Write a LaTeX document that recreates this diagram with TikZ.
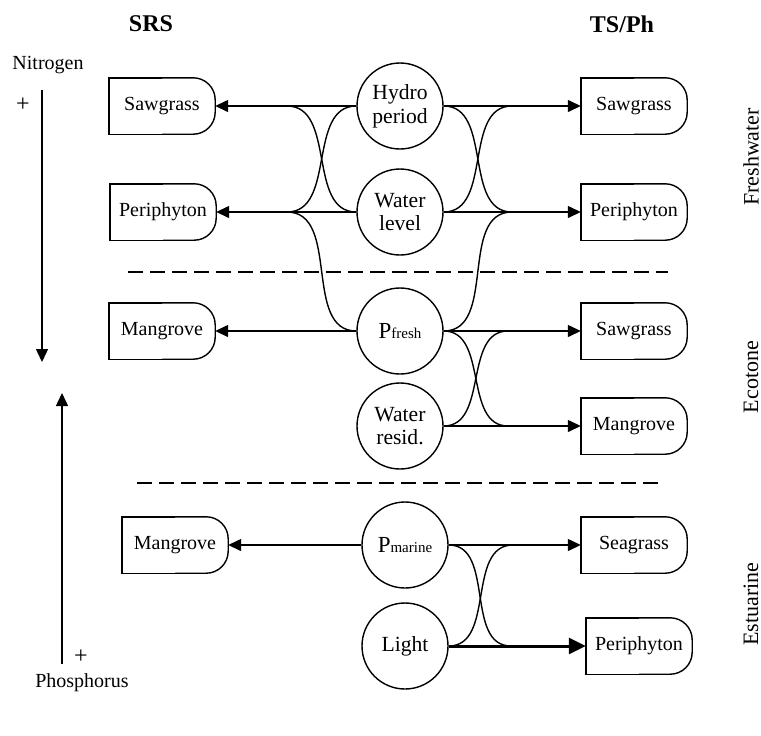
\documentclass[tikz,border=0pt]{standalone}
\usepackage{fontspec}
\setmainfont{Liberation Serif}
\usetikzlibrary{arrows.meta}

\tikzset{every picture/.style={line width=0.7pt}}
\tikzset{
  habitat/.style={rectangle, minimum width=52.5pt, minimum height=27.5pt, inner sep=0pt, font=\fontsize{10}{12}\selectfont},
  driver/.style={circle, draw, minimum size=43pt, inner sep=0pt, align=center, font=\fontsize{10.8}{11.8}\selectfont},
  link/.style={-{Triangle[length=6.5pt,width=6pt]}},
  heavylink/.style={line width=1.5pt, -{Triangle[length=8.5pt,width=8pt]}},
  zone/.style={rotate=90, font=\fontsize{11}{13}\selectfont},
  divider/.style={dash pattern={on 7.5pt off 3.5pt}}
}
\newcommand{\psubtext}[1]{{\fontsize{11.5}{13}\selectfont P}{\fontsize{7.5}{9}\selectfont #1}}

\begin{document}
\begin{tikzpicture}[x=0.5pt,y=0.5pt,yscale=-1,xscale=1]
\useasboundingbox (0,0) rectangle (761,735);

% Text Node
\node (srsHead) at (151,24) {\fontsize{12}{14}\selectfont\bfseries SRS};
% Text Node
\node (tsHead) at (622,24) {\fontsize{12}{14}\selectfont\bfseries TS/Ph};
% Text Node
\node (nitro) at (48,65) {\fontsize{10}{12}\selectfont Nitrogen};
% Text Node
\node (nitroPlus) at (23,105) {\fontsize{12}{14}\selectfont +};
% Text Node
\node (phos) at (82,683) {\fontsize{10}{12}\selectfont Phosphorus};
% Text Node
\node (phosPlus) at (81,657) {\fontsize{12}{14}\selectfont +};

% Text Node
\node[zone] (fresh) at (751,157) {Freshwater};
% Text Node
\node[zone] (ecot) at (751,377) {Ecotone};
% Text Node
\node[zone] (estu) at (751,604) {Estuarine};

%Shape: Circle
\node[driver] (hydro) at (400,106) {Hydro\\period};
\node[driver] (wlevel) at (400,212) {Water\\level};
\node[driver] (pfresh) at (400,331) {\psubtext{fresh}};
\node[driver] (wresid) at (400,426) {Water\\resid.};
\node[driver] (pmarine) at (405,545) {\psubtext{marine}};
\node[driver] (light) at (405,646) {Light};

%Shape: Boxes
\node[habitat] (srsSaw) at (162,106) {Sawgrass};
\node[habitat] (srsPeri) at (163,212) {Periphyton};
\node[habitat] (srsMang) at (162,331) {Mangrove};
\node[habitat] (estMang) at (175,545) {Mangrove};
\node[habitat] (tsSaw) at (634,106) {Sawgrass};
\node[habitat] (tsPeri) at (634,212) {Periphyton};
\node[habitat] (tsSaw2) at (634,331) {Sawgrass};
\node[habitat] (tsMang) at (634,426) {Mangrove};
\node[habitat] (tsSea) at (634,545) {Seagrass};
\node[habitat] (tsPeri2) at (639,646) {Periphyton};

\foreach \b in {srsSaw,srsPeri,srsMang,estMang,tsSaw,tsPeri,tsSaw2,tsMang,tsSea,tsPeri2}{
  \draw (\b.north) -- (\b.north west) -- (\b.south west) -- (\b.south);
  \draw[rounded corners=11pt] (\b.north) -- (\b.north east) -- (\b.south east) -- (\b.south);
}

%Straight Lines
\draw [divider] (128,272) -- (668,272);
\draw [divider] (137,483) -- (662,483);

% gradient arrows
\coordinate (nStart) at (42,90);
\coordinate (nEnd) at (42,362);
\coordinate (pStart) at (62,664);
\coordinate (pEnd) at (62,393);
\draw [link] (nStart) -- (nEnd);
\draw [link] (pStart) -- (pEnd);

% junctions
\coordinate (jl1) at (287,106);
\coordinate (jl2) at (287,212);
\coordinate (jr1) at (512,106);
\coordinate (jr2) at (512,212);
\coordinate (jr3) at (508,331);
\coordinate (jr4) at (508,426);
\coordinate (jr5) at (513,545);
\coordinate (jr6) at (511,646);

%Straight Lines
\draw [link] (hydro.west) -- (srsSaw.east);
\draw [link] (wlevel.west) -- (srsPeri.east);
\draw [link] (pfresh.west) -- (srsMang.east);
\draw [link] (pmarine.west) -- (estMang.east);
\draw [link] (hydro.east) -- (tsSaw.west);
\draw [link] (wlevel.east) -- (tsPeri.west);
\draw [link] (pfresh.east) -- (tsSaw2.west);
\draw [link] (wresid.east) -- (tsMang.west);
\draw [link] (pmarine.east) -- (tsSea.west);
\draw [heavylink] (light.east) -- (tsPeri2.west);

%Curve Lines
\draw (hydro.west) to[out=180,in=0] (jl2);
\draw (wlevel.west) to[out=180,in=0] (jl1);
\draw (pfresh.west) to[out=180,in=0] (jl2);
\draw (hydro.east) to[out=0,in=180] (jr2);
\draw (wlevel.east) to[out=0,in=180] (jr1);
\draw (pfresh.east) to[out=0,in=180] (jr2);
\draw (pfresh.east) to[out=0,in=180] (jr4);
\draw (wresid.east) to[out=0,in=180] (jr3);
\draw (pmarine.east) to[out=0,in=180] (jr6);
\draw (light.east) to[out=0,in=180] (jr5);

\end{tikzpicture}
\end{document}
